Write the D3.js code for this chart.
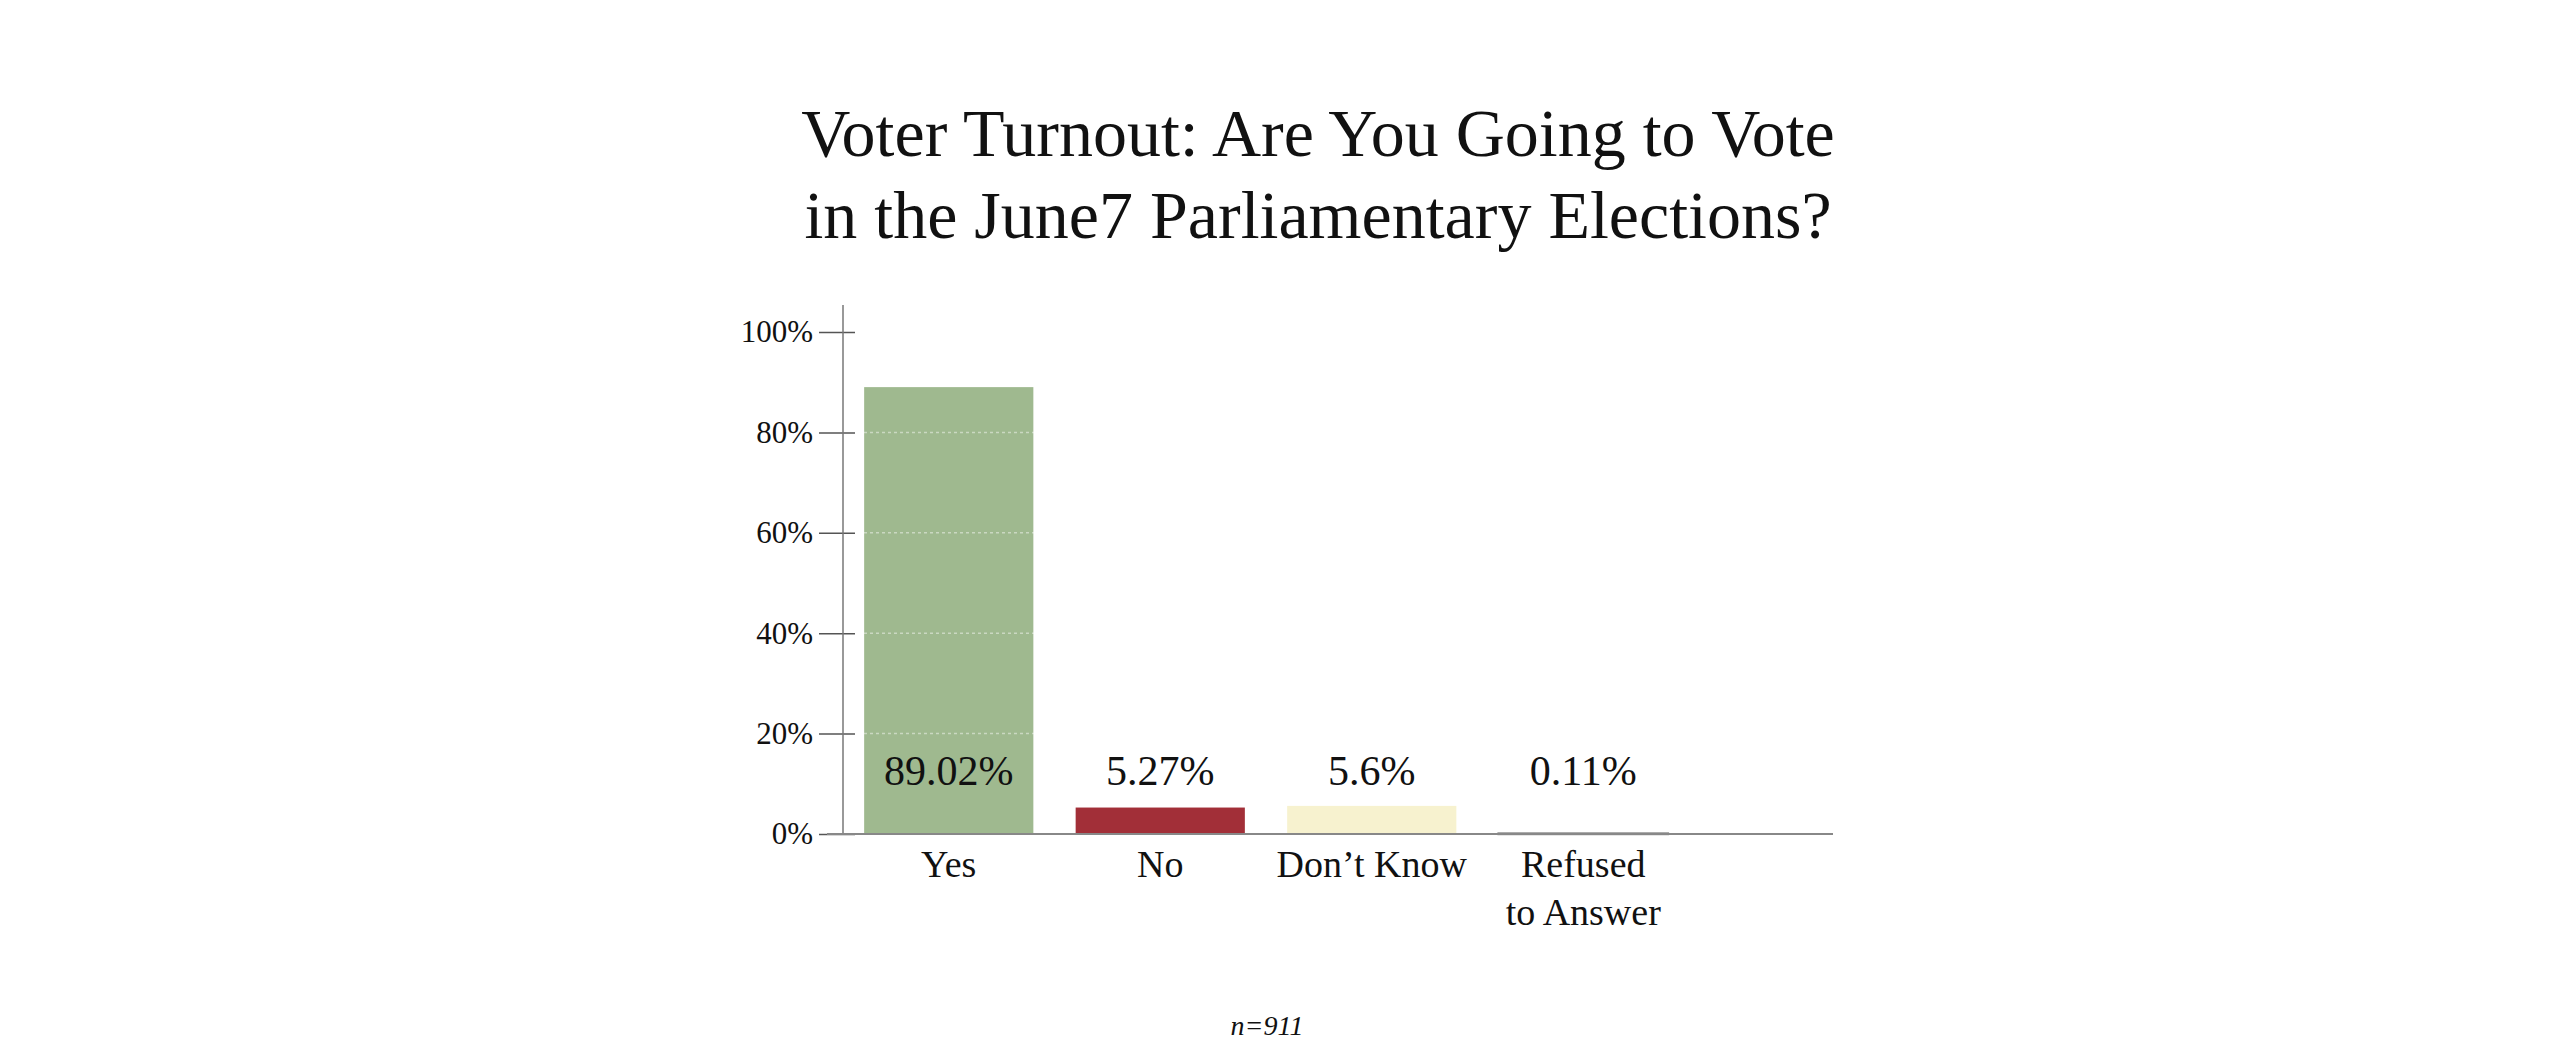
<!DOCTYPE html>
<html>
<head>
<meta charset="utf-8">
<script src="https://cdn.jsdelivr.net/npm/d3@7"></script>
<style>
body { margin: 0; background: white; }
text { font-family: "Liberation Serif", "Times New Roman", serif; fill: #111; }
</style>
</head>
<body>
<svg></svg>
<script>
var w = 2560
var h = 1061

var categories = ["Yes", "No", "Don\u2019t Know", "Refused|to Answer"]
var values = [89.02, 5.27, 5.6, 0.11]
var valueLabels = ["89.02%", "5.27%", "5.6%", "0.11%"]
var barColors = ["#9fb98f", "#a22f38", "#f7f2cf", "#bbbbbb"]
var yTicks = [0, 20, 40, 60, 80, 100]
var titleLines = ["Voter Turnout: Are You Going to Vote", "in the June7 Parliamentary Elections?"]
var note = "n=911"

var axisX = 843
var baseY = 834

var svg = d3.select("svg")
	.attr("width", w)
	.attr("height", h)
	.style("background-color", "white")

var x = d3.scaleBand()
	.domain(categories)
	.range([axisX, 1689])
	.paddingInner(0.2)
	.paddingOuter(0.1)

var y = d3.scaleLinear()
	.domain([0, 100])
	.range([baseY, 332])

// title
svg.append("g")
	.selectAll("text")
	.data(titleLines)
	.join("text")
	.attr("x", 1318)
	.attr("y", function(d, i) { return 156 + i * 82 })
	.attr("text-anchor", "middle")
	.style("font-size", "68px")
	.text(function(d) { return d })

// bars
svg.append("g")
	.selectAll("rect")
	.data(values)
	.join("rect")
	.attr("x", function(d, i) { return x(categories[i]) })
	.attr("y", function(d) { return y(d) })
	.attr("width", x.bandwidth())
	.attr("height", function(d) { return baseY - y(d) })
	.attr("fill", function(d, i) { return barColors[i] })
	.attr("stroke", function(d, i) { return i == 3 ? "#999" : "none" })
	.attr("stroke-width", 2.5)

// light dotted gridlines over the bars
svg.append("g")
	.selectAll("line")
	.data(yTicks.slice(1))
	.join("line")
	.attr("x1", 858)
	.attr("x2", 1833)
	.attr("y1", function(d) { return y(d) })
	.attr("y2", function(d) { return y(d) })
	.attr("stroke", "white")
	.attr("stroke-opacity", 0.45)
	.attr("stroke-width", 1.5)
	.attr("stroke-dasharray", "3,3")

// y axis
var yAxis = svg.append("g")
	.attr("transform", "translate(" + axisX + ",0)")
	.call(d3.axisLeft(y)
		.tickValues(yTicks)
		.tickSize(24)
		.tickPadding(6)
		.tickFormat(function(d) { return d + "%" }))

yAxis.select(".domain").remove()
yAxis.selectAll(".tick line")
	.attr("x1", 12)
	.attr("x2", -24)
	.attr("stroke", "#555")
	.attr("stroke-width", 1.5)
yAxis.selectAll(".tick text")
	.style("font-size", "31px")
	.style("font-family", "Liberation Serif")
	.attr("fill", "#111")

svg.append("line")
	.attr("x1", axisX).attr("x2", axisX)
	.attr("y1", 305).attr("y2", baseY)
	.attr("stroke", "#777")
	.attr("stroke-width", 1.5)

// baseline
svg.append("line")
	.attr("x1", 827).attr("x2", 1833)
	.attr("y1", baseY).attr("y2", baseY)
	.attr("stroke", "#888")
	.attr("stroke-width", 2)

// value labels
svg.append("g")
	.selectAll("text")
	.data(valueLabels)
	.join("text")
	.attr("x", function(d, i) { return x(categories[i]) + x.bandwidth() / 2 })
	.attr("y", 785)
	.attr("text-anchor", "middle")
	.style("font-size", "42px")
	.text(function(d) { return d })

// category labels (| splits lines)
var catText = svg.append("g")
	.selectAll("text")
	.data(categories)
	.join("text")
	.attr("x", function(d) { return x(d) + x.bandwidth() / 2 })
	.attr("y", 877)
	.attr("text-anchor", "middle")
	.style("font-size", "38px")

catText.selectAll("tspan")
	.data(function(d) { return d.split("|").map(function(s) { return {s: s, c: d} }) })
	.join("tspan")
	.attr("x", function(d) { return x(d.c) + x.bandwidth() / 2 })
	.attr("dy", function(d, i) { return i == 0 ? 0 : 48 })
	.text(function(d) { return d.s })

// note
svg.append("text")
	.attr("x", 1267)
	.attr("y", 1035)
	.attr("text-anchor", "middle")
	.style("font-size", "28px")
	.style("font-style", "italic")
	.text(note)
</script>
</body>
</html>
